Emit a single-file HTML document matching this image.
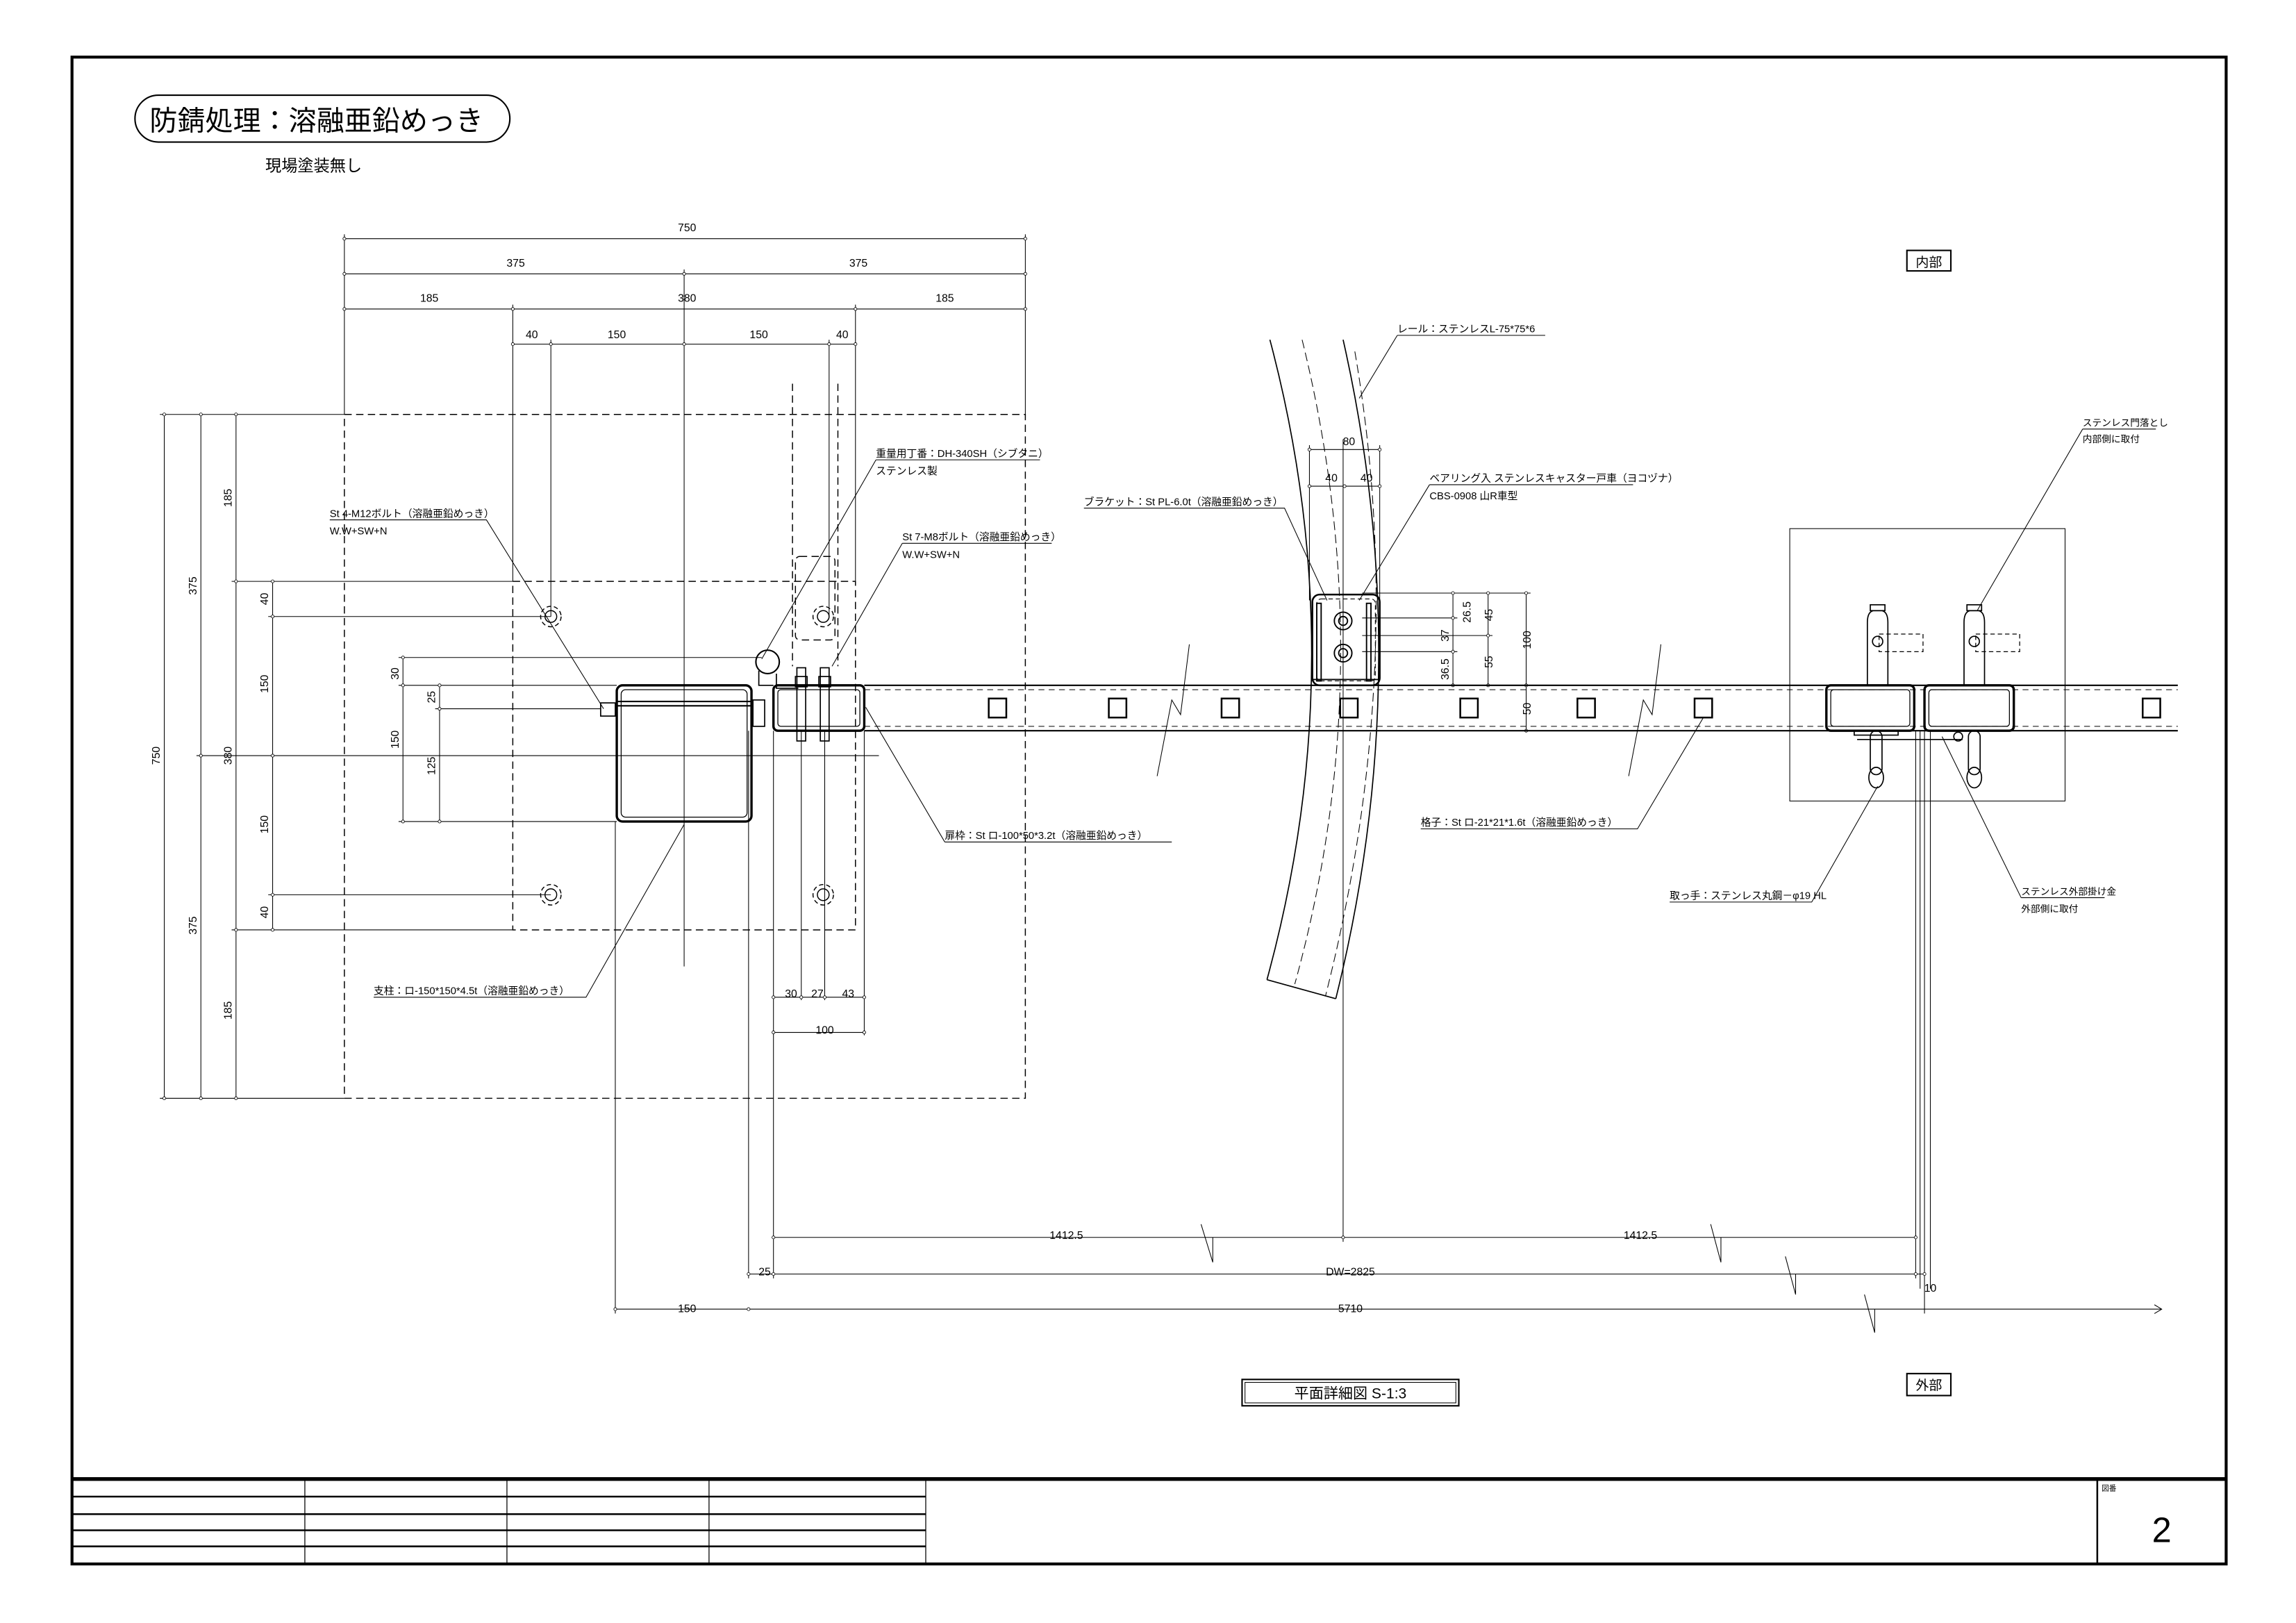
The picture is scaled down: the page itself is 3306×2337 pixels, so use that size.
<!DOCTYPE html>
<html><head><meta charset="utf-8"><style>
html,body{margin:0;padding:0;background:#fff}
svg{display:block}
text{font-family:"Liberation Sans","Noto Sans CJK JP",sans-serif;fill:#000}
</style></head><body>
<svg width="3306" height="2337" viewBox="0 0 1560 1103" xmlns="http://www.w3.org/2000/svg">
<rect width="1560" height="1103" fill="#fff"/>
<g transform="scale(0.9952)">
<g fill="none" stroke="#000">
<!-- border -->
<rect x="49" y="39" width="1471" height="1029" stroke-width="2"/>
<line x1="49" y1="1010" x2="1520" y2="1010" stroke-width="2.5"/>
<g stroke-width="1.2">
<line x1="49" y1="1022" x2="632" y2="1022"/><line x1="49" y1="1034" x2="632" y2="1034"/>
<line x1="49" y1="1045" x2="632" y2="1045"/><line x1="49" y1="1056" x2="632" y2="1056"/>
</g>
<g stroke-width="0.6"><line x1="208" y1="1010" x2="208" y2="1068"/><line x1="346" y1="1010" x2="346" y2="1068"/><line x1="484" y1="1010" x2="484" y2="1068"/><line x1="632" y1="1010" x2="632" y2="1068"/></g>
<line x1="1432" y1="1010" x2="1432" y2="1068" stroke-width="1.2"/>
<!-- pill -->
<rect x="92" y="65" width="256" height="32" rx="16" stroke-width="1"/>
<!-- boxes -->
<rect x="848" y="942" width="148" height="18" stroke-width="1"/><rect x="850" y="944" width="144" height="14" stroke-width="0.5"/>
<rect x="1302" y="938" width="30" height="15" stroke-width="1"/>
<rect x="1302" y="171" width="30" height="14" stroke-width="1"/>

<g stroke-width="0.5">
<line x1="235" y1="163" x2="700" y2="163"/>
<line x1="235" y1="187" x2="700" y2="187"/>
<line x1="235" y1="211" x2="700" y2="211"/>
<line x1="350" y1="235" x2="584" y2="235"/>
<line x1="235" y1="160" x2="235" y2="283"/><line x1="700" y1="160" x2="700" y2="283"/>
<line x1="350" y1="208" x2="350" y2="397"/><line x1="584" y1="208" x2="584" y2="397"/>
<line x1="376" y1="232" x2="376" y2="421"/><line x1="566" y1="232" x2="566" y2="421"/>
<line x1="467" y1="184" x2="467" y2="660"/>
<line x1="112" y1="283" x2="112" y2="750"/><line x1="137" y1="283" x2="137" y2="750"/>
<line x1="161" y1="283" x2="161" y2="750"/><line x1="186" y1="397" x2="186" y2="635"/>
<line x1="109" y1="283" x2="235" y2="283"/><line x1="109" y1="750" x2="235" y2="750"/>
<line x1="158" y1="397" x2="350" y2="397"/><line x1="158" y1="635" x2="350" y2="635"/>
<line x1="183" y1="421" x2="376" y2="421"/><line x1="183" y1="611" x2="376" y2="611"/>
<line x1="134" y1="516" x2="600" y2="516"/>
<line x1="275" y1="449" x2="275" y2="561"/><line x1="300" y1="468" x2="300" y2="561"/>
<line x1="272" y1="449" x2="520" y2="449"/><line x1="272" y1="468" x2="421" y2="468"/>
<line x1="297" y1="484" x2="410" y2="484"/><line x1="272" y1="561" x2="421" y2="561"/>
<line x1="528" y1="681" x2="590" y2="681"/><line x1="528" y1="705" x2="590" y2="705"/>
<line x1="547" y1="499" x2="547" y2="683"/><line x1="563" y1="499" x2="563" y2="683"/>
<line x1="590" y1="499" x2="590" y2="707"/>
<line x1="528" y1="845" x2="1308" y2="845"/>
<line x1="511" y1="870" x2="1314" y2="870"/>
<line x1="420" y1="894" x2="1476" y2="894"/>
<polyline points="1471,891 1476,894 1471,897"/>
<line x1="420" y1="561" x2="420" y2="897"/><line x1="511" y1="499" x2="511" y2="873"/>
<line x1="528" y1="499" x2="528" y2="873"/><line x1="917" y1="300" x2="917" y2="848"/>
<line x1="1308" y1="499" x2="1308" y2="873"/><line x1="1314" y1="499" x2="1314" y2="897"/>
<polyline points="820,836 828,862 828,845"/><polyline points="1168,836 1175,862 1175,845"/>
<polyline points="1219,858 1226,884 1226,870"/><polyline points="1273,884 1280,910 1280,894"/>
<polyline points="790,530 800,478 806,488 812,440"/><polyline points="1112,530 1122,478 1128,488 1134,440"/>
<line x1="894" y1="307" x2="942" y2="307"/><line x1="894" y1="332" x2="942" y2="332"/>
<line x1="894" y1="304" x2="894" y2="410"/><line x1="942" y1="304" x2="942" y2="410"/>
<line x1="992" y1="405" x2="992" y2="468"/><line x1="1016" y1="405" x2="1016" y2="468"/><line x1="1042" y1="405" x2="1042" y2="499"/>
<line x1="930" y1="405" x2="1045" y2="405"/><line x1="930" y1="422" x2="995" y2="422"/>
<line x1="930" y1="434" x2="1019" y2="434"/><line x1="930" y1="445" x2="995" y2="445"/>
<line x1="1039" y1="499" x2="1045" y2="499"/>
<line x1="1311" y1="499" x2="1311" y2="880"/><line x1="1318" y1="499" x2="1318" y2="880"/>
<rect x="1222" y="361" width="188" height="186"/>
<polyline points="225,355 332,355 412,484"/>
<polyline points="598,314 710,314"/><line x1="598" y1="314" x2="520" y2="450"/>
<polyline points="616,371 718,371"/><line x1="616" y1="371" x2="568" y2="455"/>
<polyline points="645,575 800,575"/><line x1="645" y1="575" x2="591" y2="483"/>
<polyline points="255,681 400,681 467,563"/>
<polyline points="954,229 1055,229"/><line x1="954" y1="229" x2="928" y2="272"/>
<polyline points="740,347 877,347 906,410"/>
<polyline points="976,331 1115,331"/><line x1="976" y1="331" x2="928" y2="410"/>
<polyline points="970,566 1118,566 1163,490"/>
<polyline points="1422,293 1472,293"/><line x1="1422" y1="293" x2="1350" y2="417"/>
<polyline points="1140,616 1237,616 1282,537"/>
<polyline points="1380,613 1437,613"/><line x1="1380" y1="613" x2="1326" y2="503"/>
</g>
<g stroke-width="0.4" fill="#fff">
<circle cx="235" cy="163" r="1"/><circle cx="700" cy="163" r="1"/>
<circle cx="235" cy="187" r="1"/><circle cx="467" cy="187" r="1"/><circle cx="700" cy="187" r="1"/>
<circle cx="235" cy="211" r="1"/><circle cx="350" cy="211" r="1"/><circle cx="584" cy="211" r="1"/><circle cx="700" cy="211" r="1"/>
<circle cx="350" cy="235" r="1"/><circle cx="376" cy="235" r="1"/><circle cx="467" cy="235" r="1"/><circle cx="566" cy="235" r="1"/><circle cx="584" cy="235" r="1"/>
<circle cx="112" cy="283" r="1"/><circle cx="137" cy="283" r="1"/><circle cx="161" cy="283" r="1"/>
<circle cx="112" cy="750" r="1"/><circle cx="137" cy="750" r="1"/><circle cx="161" cy="750" r="1"/>
<circle cx="137" cy="516" r="1"/><circle cx="161" cy="397" r="1"/><circle cx="161" cy="635" r="1"/>
<circle cx="186" cy="397" r="1"/><circle cx="186" cy="421" r="1"/><circle cx="186" cy="516" r="1"/><circle cx="186" cy="611" r="1"/><circle cx="186" cy="635" r="1"/>
<circle cx="275" cy="449" r="1"/><circle cx="275" cy="468" r="1"/><circle cx="275" cy="561" r="1"/>
<circle cx="300" cy="468" r="1"/><circle cx="300" cy="484" r="1"/><circle cx="300" cy="561" r="1"/>
<circle cx="528" cy="681" r="1"/><circle cx="547" cy="681" r="1"/><circle cx="563" cy="681" r="1"/><circle cx="590" cy="681" r="1"/>
<circle cx="528" cy="705" r="1"/><circle cx="590" cy="705" r="1"/>
<circle cx="528" cy="845" r="1"/><circle cx="917" cy="845" r="1"/><circle cx="1308" cy="845" r="1"/>
<circle cx="511" cy="870" r="1"/><circle cx="528" cy="870" r="1"/><circle cx="1308" cy="870" r="1"/><circle cx="1314" cy="870" r="1"/>
<circle cx="420" cy="894" r="1"/><circle cx="511" cy="894" r="1"/>
<circle cx="894" cy="307" r="1"/><circle cx="942" cy="307" r="1"/><circle cx="894" cy="332" r="1"/><circle cx="918" cy="332" r="1"/><circle cx="942" cy="332" r="1"/>
<circle cx="992" cy="405" r="1"/><circle cx="992" cy="422" r="1"/><circle cx="992" cy="445" r="1"/><circle cx="992" cy="468" r="1"/>
<circle cx="1016" cy="405" r="1"/><circle cx="1016" cy="434" r="1"/><circle cx="1016" cy="468" r="1"/>
<circle cx="1042" cy="405" r="1"/><circle cx="1042" cy="468" r="1"/><circle cx="1042" cy="499" r="1"/>
</g>
<g stroke-width="0.7" stroke-dasharray="5,3">
<rect x="235" y="283" width="465" height="467"/>
<rect x="350" y="397" width="234" height="238"/>
<line x1="541" y1="262" x2="541" y2="455"/><line x1="572" y1="262" x2="572" y2="455"/>
<rect x="543" y="380" width="27" height="57" rx="3"/>
</g>
<g stroke-width="0.7">
<circle cx="376" cy="421" r="4"/><circle cx="376" cy="421" r="7" stroke-dasharray="3,2"/>
<circle cx="562" cy="421" r="4"/><circle cx="562" cy="421" r="7" stroke-dasharray="3,2"/>
<circle cx="376" cy="611" r="4"/><circle cx="376" cy="611" r="7" stroke-dasharray="3,2"/>
<circle cx="562" cy="611" r="4"/><circle cx="562" cy="611" r="7" stroke-dasharray="3,2"/>
</g>
<rect x="421" y="468" width="92" height="93" rx="4" stroke-width="1.6"/>
<rect x="424" y="471" width="86" height="87" rx="3" stroke-width="0.6"/>
<line x1="421" y1="479" x2="513" y2="479" stroke-width="1"/><line x1="421" y1="482" x2="513" y2="482" stroke-width="1"/>
<rect x="410" y="480" width="10" height="9" stroke-width="0.8"/><rect x="514" y="478" width="8" height="18" stroke-width="0.8"/>
<circle cx="524" cy="452" r="8" stroke-width="1"/>
<polyline points="518,458 518,468 528,468" stroke-width="0.8"/>
<polyline points="530,460 530,470 545,470" stroke-width="0.8"/>
<rect x="528" y="468" width="62" height="31" rx="3" stroke-width="1.6"/>
<rect x="531" y="471" width="56" height="25" rx="2" stroke-width="0.6"/>
<g stroke-width="0.8"><rect x="544" y="456" width="6" height="50"/><rect x="560" y="456" width="6" height="50"/>
<rect x="543" y="462" width="8" height="7"/><rect x="559" y="462" width="8" height="7"/></g>
<line x1="590" y1="468" x2="1487" y2="468" stroke-width="1"/>
<line x1="590" y1="499" x2="1487" y2="499" stroke-width="1"/>
<line x1="590" y1="471" x2="1487" y2="471" stroke-width="0.5" stroke-dasharray="4,3"/>
<line x1="590" y1="496" x2="1487" y2="496" stroke-width="0.5" stroke-dasharray="4,3"/>
<g stroke-width="1.2">
<rect x="675" y="477" width="12" height="13"/><rect x="757" y="477" width="12" height="13"/><rect x="834" y="477" width="12" height="13"/>
<rect x="915" y="477" width="12" height="13"/><rect x="997" y="477" width="12" height="13"/><rect x="1077" y="477" width="12" height="13"/>
<rect x="1157" y="477" width="12" height="13"/><rect x="1463" y="477" width="12" height="13"/>
</g>
<path d="M867,232 Q925,450 865,669" stroke-width="0.8"/>
<path d="M917,232 Q968,457 912,682" stroke-width="0.8"/>
<path d="M889,232 Q944,455 884,672" stroke-width="0.5" stroke-dasharray="6,3"/>
<path d="M925,240 Q962,455 905,680" stroke-width="0.5" stroke-dasharray="6,3"/>
<line x1="865" y1="669" x2="912" y2="682" stroke-width="0.8"/>
<rect x="896" y="406" width="46" height="62" rx="5" stroke-width="1.2"/>
<rect x="899" y="409" width="40" height="56" rx="3" stroke-width="0.5" stroke-dasharray="3,2"/>
<g stroke-width="0.9"><circle cx="917" cy="424" r="6"/><circle cx="917" cy="424" r="3"/><circle cx="917" cy="446" r="6"/><circle cx="917" cy="446" r="3"/>
<rect x="899" y="412" width="3" height="53"/><rect x="933" y="412" width="3" height="53"/>
<line x1="896" y1="464" x2="942" y2="464"/></g>
<rect x="1247" y="468" width="60" height="31" rx="3" stroke-width="1.6"/>
<rect x="1250" y="471" width="54" height="25" rx="2" stroke-width="0.6"/>
<rect x="1314" y="468" width="61" height="31" rx="3" stroke-width="1.6"/>
<rect x="1317" y="471" width="55" height="25" rx="2" stroke-width="0.6"/>
<g stroke-width="0.8">
<path d="M1275,468 L1275,425 Q1275,418 1279,417 L1285,417 Q1289,418 1289,425 L1289,468"/>
<rect x="1277" y="413" width="10" height="4"/><circle cx="1282" cy="438" r="3.5"/>
<path d="M1341,468 L1341,425 Q1341,418 1345,417 L1351,417 Q1355,418 1355,425 L1355,468"/>
<rect x="1343" y="413" width="10" height="4"/><circle cx="1348" cy="438" r="3.5"/>
<rect x="1277" y="499" width="8" height="30" rx="4"/><ellipse cx="1281" cy="531" rx="5" ry="7"/>
<rect x="1344" y="499" width="8" height="30" rx="4"/><ellipse cx="1348" cy="531" rx="5" ry="7"/>
<line x1="1268" y1="505" x2="1340" y2="505"/><circle cx="1337" cy="503" r="3"/>
<rect x="1266" y="499" width="30" height="3"/>
</g>
<g stroke-width="0.6" stroke-dasharray="3,2"><rect x="1283" y="433" width="30" height="12"/><rect x="1349" y="433" width="30" height="12"/></g>
</g>

<text x="102" y="89" font-size="19">防錆処理：溶融亜鉛めっき</text>
<text x="181" y="117" font-size="11">現場塗装無し</text>
<g font-size="7.5" text-anchor="middle">
<text x="469" y="158">750</text><text x="352" y="182">375</text><text x="586" y="182">375</text>
<text x="293" y="206">185</text><text x="469" y="206">380</text><text x="645" y="206">185</text>
<text x="363" y="231">40</text><text x="421" y="231">150</text><text x="518" y="231">150</text><text x="575" y="231">40</text>
<text x="921" y="304">80</text><text x="909" y="329">40</text><text x="933" y="329">40</text>
<text x="540" y="681">30</text><text x="558" y="681">27</text><text x="579" y="681">43</text><text x="563" y="706">100</text>
<text x="728" y="846">1412.5</text><text x="1120" y="846">1412.5</text>
<text x="922" y="871">DW=2825</text><text x="522" y="871">25</text><text x="1318" y="882">10</text>
<text x="469" y="896">150</text><text x="922" y="896">5710</text>
</g>
<g font-size="7.5" text-anchor="middle">
<text transform="translate(109,516) rotate(-90)">750</text>
<text transform="translate(134,400) rotate(-90)">375</text><text transform="translate(134,632) rotate(-90)">375</text>
<text transform="translate(158,340) rotate(-90)">185</text><text transform="translate(158,516) rotate(-90)">380</text><text transform="translate(158,690) rotate(-90)">185</text>
<text transform="translate(183,409) rotate(-90)">40</text><text transform="translate(183,467) rotate(-90)">150</text><text transform="translate(183,563) rotate(-90)">150</text><text transform="translate(183,623) rotate(-90)">40</text>
<text transform="translate(272,460) rotate(-90)">30</text><text transform="translate(272,505) rotate(-90)">150</text>
<text transform="translate(297,476) rotate(-90)">25</text><text transform="translate(297,523) rotate(-90)">125</text>
<text transform="translate(989,434) rotate(-90)">37</text><text transform="translate(989,457) rotate(-90)">36.5</text>
<text transform="translate(1004,418) rotate(-90)">26.5</text>
<text transform="translate(1019,420) rotate(-90)">45</text><text transform="translate(1019,452) rotate(-90)">55</text>
<text transform="translate(1045,437) rotate(-90)">100</text><text transform="translate(1045,484) rotate(-90)">50</text>
</g>
<g font-size="7">
<text x="598" y="312">重量用丁番：DH-340SH（シブタニ）</text><text x="598" y="324">ステンレス製</text>
<text x="225" y="353">St 4-M12ボルト（溶融亜鉛めっき）</text><text x="225" y="365">W.W+SW+N</text>
<text x="616" y="369">St 7-M8ボルト（溶融亜鉛めっき）</text><text x="616" y="381">W.W+SW+N</text>
<text x="645" y="573">扉枠：St ロ-100*50*3.2t（溶融亜鉛めっき）</text>
<text x="255" y="679">支柱：ロ-150*150*4.5t（溶融亜鉛めっき）</text>
<text x="954" y="227">レール：ステンレスL-75*75*6</text>
<text x="740" y="345">ブラケット：St PL-6.0t（溶融亜鉛めっき）</text>
<text x="976" y="329">ベアリング入 ステンレスキャスター戸車（ヨコヅナ）</text><text x="976" y="341">CBS-0908 山R車型</text>
<text x="970" y="564">格子：St ロ-21*21*1.6t（溶融亜鉛めっき）</text>
<text x="1422" y="291" font-size="6.5">ステンレス門落とし</text><text x="1422" y="302" font-size="6.5">内部側に取付</text>
<text x="1140" y="614">取っ手：ステンレス丸鋼－φ19 HL</text>
<text x="1380" y="611" font-size="6.5">ステンレス外部掛け金</text><text x="1380" y="623" font-size="6.5">外部側に取付</text>
</g>
<text x="922" y="955" font-size="10" text-anchor="middle">平面詳細図 S-1:3</text>
<text x="1317" y="949" font-size="9" text-anchor="middle">外部</text>
<text x="1317" y="182" font-size="9" text-anchor="middle">内部</text>
<text x="1435" y="1018" font-size="5">図番</text>
<text x="1476" y="1053" font-size="24" text-anchor="middle" font-weight="lighter">2</text>
</g>
</svg>
</body></html>
